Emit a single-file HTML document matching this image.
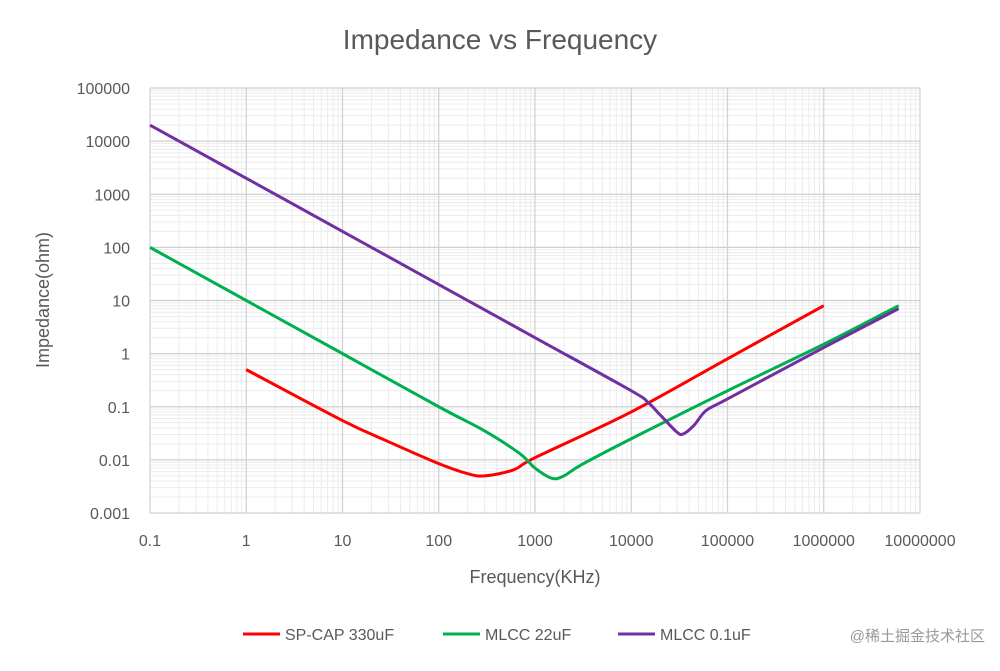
<!DOCTYPE html>
<html><head><meta charset="utf-8"><style>
body{margin:0;background:#fff;font-family:"Liberation Sans","Noto Sans CJK SC",sans-serif}
</style></head><body>
<svg id="c" width="1000" height="666" xmlns="http://www.w3.org/2000/svg">
<text x="500" y="49" text-anchor="middle" font-size="28" fill="#595959">Impedance vs Frequency</text>
<g id="grid"></g>
<g id="axes"></g>
<g id="series"></g>
<text x="535" y="583" text-anchor="middle" font-size="18" fill="#595959">Frequency(KHz)</text>
<text transform="translate(49,300) rotate(-90)" text-anchor="middle" font-size="18" fill="#595959">Impedance(ohm)</text>
<g>
<g><line x1="243" y1="634" x2="280" y2="634" stroke="#ff0000" stroke-width="3"/><text x="285" y="640" font-size="16" fill="#595959">SP-CAP 330uF</text></g>
<g><line x1="443" y1="634" x2="480" y2="634" stroke="#00b050" stroke-width="3"/><text x="485" y="640" font-size="16" fill="#595959">MLCC 22uF</text></g>
<g><line x1="618" y1="634" x2="655" y2="634" stroke="#7030a0" stroke-width="3"/><text x="660" y="640" font-size="16" fill="#595959">MLCC 0.1uF</text></g>
</g>
<text x="985" y="641" text-anchor="end" font-size="15" fill="#999">@稀土掘金技术社区</text>
</svg>
<script>
const xTicks=[0.1,1,10,100,1000,10000,100000,1000000,10000000];
const xTickLabels=["0.1","1","10","100","1000","10000","100000","1000000","10000000"];
const yTicks=[0.001,0.01,0.1,1,10,100,1000,10000,100000];
const yTickLabels=["0.001","0.01","0.1","1","10","100","1000","10000","100000"];
const spcapF=[1,10,30,100,200,300,600,1000,10000,100000,1000000];
const spcapZ=[0.5,0.055,0.022,0.0085,0.0055,0.005,0.0065,0.011,0.08,0.8,8];
const mlcc22F=[0.1,1,10,100,300,700,1000,1500,2000,3000,10000,100000,1000000,6000000];
const mlcc22Z=[100,10,1,0.1,0.035,0.013,0.007,0.0045,0.005,0.008,0.025,0.2,1.5,8];
const mlcc01F=[0.1,1,10,100,1000,10000,15000,20000,30000,35000,45000,60000,100000,1000000,6000000];
const mlcc01Z=[20000,2000,200,20,2,0.2,0.12,0.07,0.033,0.031,0.045,0.085,0.14,1.3,7];
const NS="http://www.w3.org/2000/svg";
const X0=150,X1=920,Y0=513,Y1=88;
const xs=f=>X0+(Math.log10(f)+1)/8*(X1-X0);
const ys=z=>Y0-(Math.log10(z)+3)/8*(Y0-Y1);
function mk(t,a,p){const e=document.createElementNS(NS,t);for(const k in a)e.setAttribute(k,a[k]);p.appendChild(e);return e;}
const g=document.getElementById('grid'),ax=document.getElementById('axes'),sg=document.getElementById('series');
for(let d=-1;d<7;d++)for(let m=2;m<10;m++){const x=xs(m*Math.pow(10,d));const l=mk('line',{x1:x,x2:x,y1:Y1,y2:Y0,stroke:'#ececec','stroke-width':1},g);}
for(let d=-3;d<5;d++)for(let m=2;m<10;m++){const y=ys(m*Math.pow(10,d));const l=mk('line',{x1:X0,x2:X1,y1:y,y2:y,stroke:'#ececec','stroke-width':1},g);}
xTicks.forEach((v,i)=>{const x=xs(v);const l=mk('line',{x1:x,x2:x,y1:Y1,y2:Y0,stroke:'#d0d0d0','stroke-width':1.2},g);
const t=mk('text',{x:x,y:546,'text-anchor':'middle','font-size':16,fill:'#595959'},ax);t.textContent=xTickLabels[i];});
yTicks.forEach((v,i)=>{const y=ys(v);const l=mk('line',{x1:X0,x2:X1,y1:y,y2:y,stroke:'#d0d0d0','stroke-width':1.2},g);
const t=mk('text',{x:130,y:y+6,'text-anchor':'end','font-size':16,fill:'#595959'},ax);t.textContent=yTickLabels[i];});
function path(F,Z){const p=F.map((f,i)=>[xs(f),ys(Z[i])]);let d='M'+p[0][0]+','+p[0][1];
for(let i=0;i<p.length-1;i++){const a=p[i-1]||p[i],b=p[i],c=p[i+1],e=p[i+2]||c;
d+=' C'+(b[0]+(c[0]-a[0])/6)+','+(b[1]+(c[1]-a[1])/6)+' '+(c[0]-(e[0]-b[0])/6)+','+(c[1]-(e[1]-b[1])/6)+' '+c[0]+','+c[1];}return d;}
const s1=mk('path',{d:path(spcapF,spcapZ),fill:'none',stroke:'#ff0000','stroke-width':3},sg);


const s2=mk('path',{d:path(mlcc22F,mlcc22Z),fill:'none',stroke:'#00b050','stroke-width':3},sg);


const s3=mk('path',{d:path(mlcc01F,mlcc01Z),fill:'none',stroke:'#7030a0','stroke-width':3},sg);


</script>
</body></html>
